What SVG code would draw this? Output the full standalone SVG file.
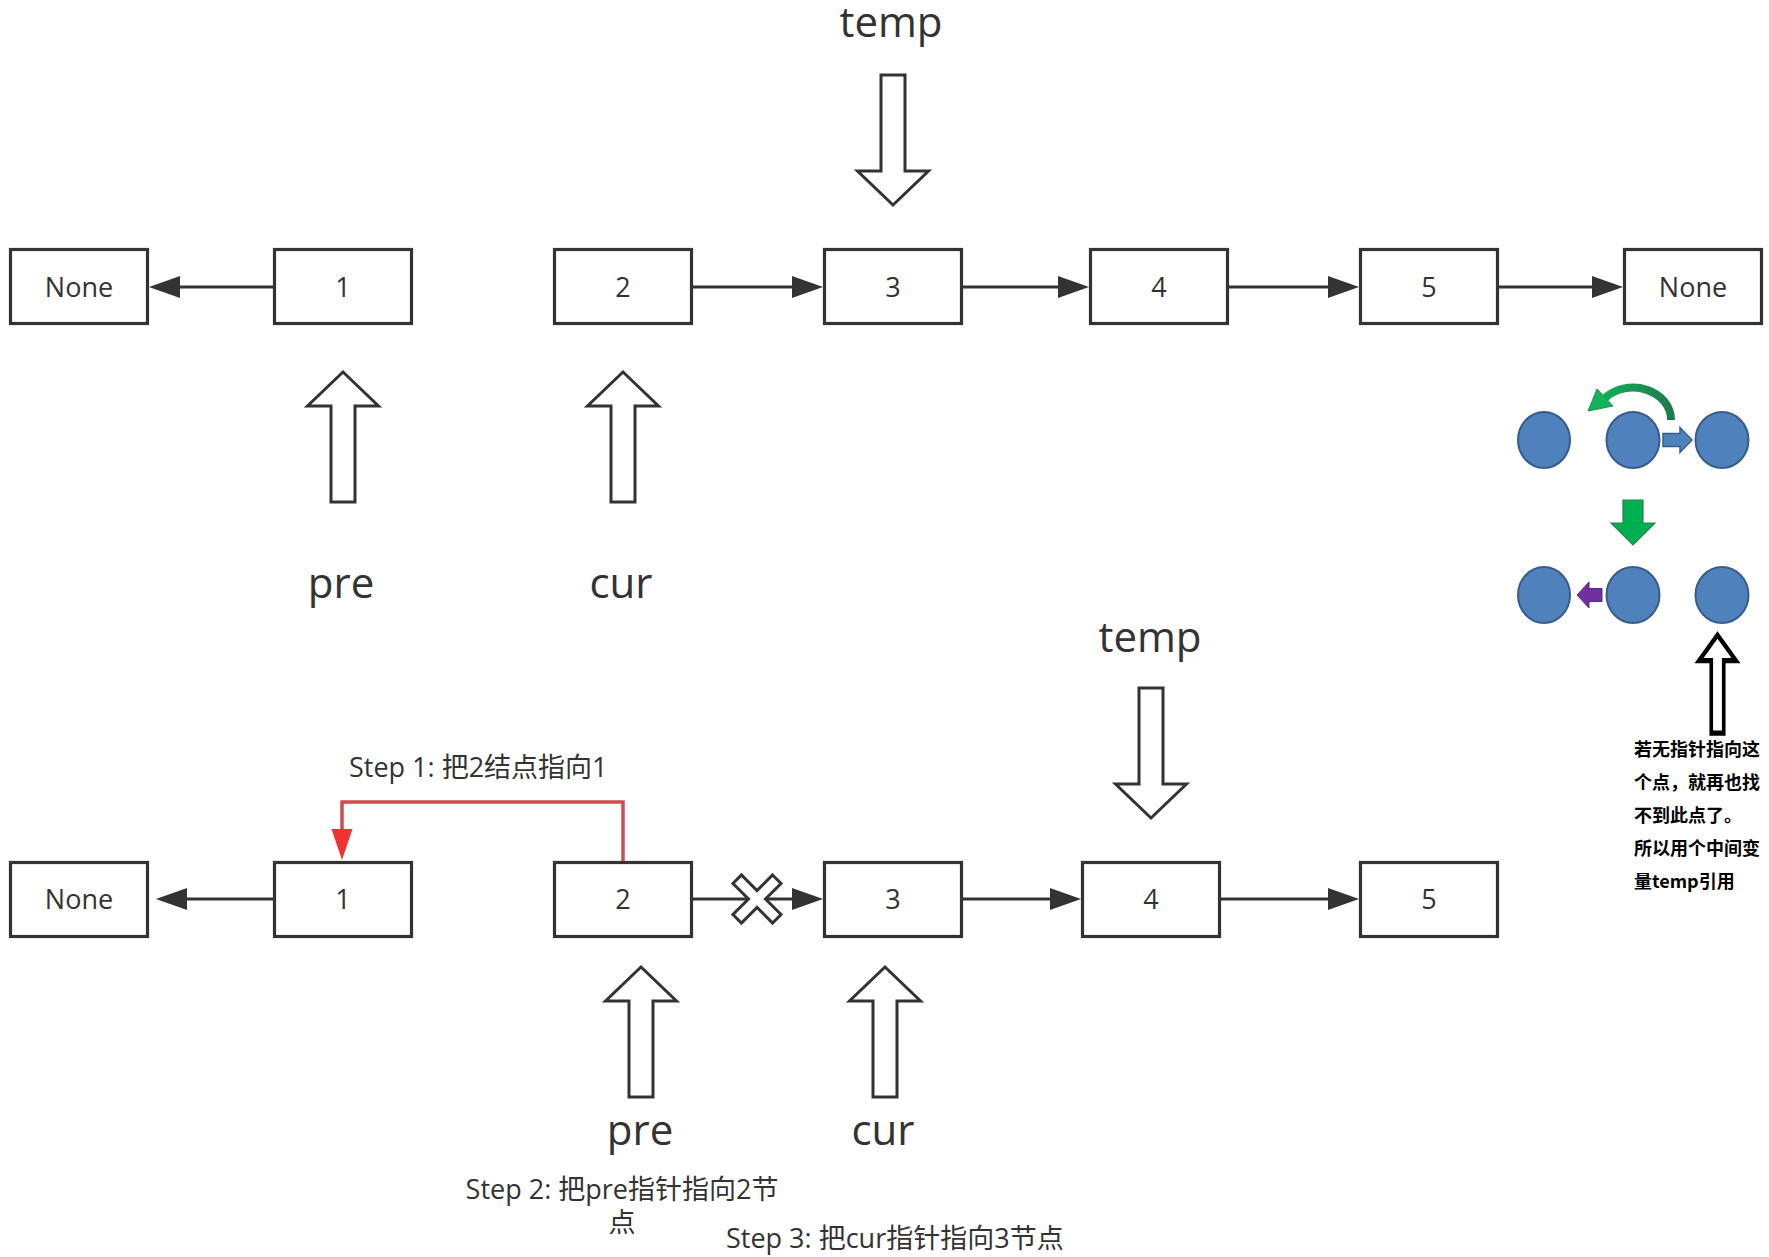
<svg xmlns="http://www.w3.org/2000/svg" width="1769" height="1257" viewBox="0 0 1769 1257">
<style>
.box{fill:#fff;stroke:#333;stroke-width:3.2}
.bt{font-family:"Open Sans","Noto Sans CJK SC",sans-serif;font-size:27px;fill:#333;text-anchor:middle}
.big{font-family:"Open Sans","Noto Sans CJK SC",sans-serif;font-size:42px;fill:#333;text-anchor:middle}
.step{font-family:"Open Sans","Noto Sans CJK SC",sans-serif;font-size:27px;fill:#333}
.note{font-family:"Noto Sans CJK SC","Noto Sans CJK JP",sans-serif;font-size:18px;font-weight:bold;fill:#000}
.hollow{fill:#fff;stroke:#333;stroke-width:3;stroke-linejoin:miter}
.conn{stroke:#333;stroke-width:3;fill:none}
.circ{fill:#4f81bd;stroke:#385d8a;stroke-width:2}
</style>
<defs>
<marker id="ah" markerUnits="userSpaceOnUse" markerWidth="31" markerHeight="22" refX="0" refY="11" orient="auto" overflow="visible">
<path d="M0,0 L31,11 L0,22 Z" fill="#333"/>
</marker>
<marker id="ahr" markerUnits="userSpaceOnUse" markerWidth="31" markerHeight="21" refX="0" refY="10.5" orient="auto" overflow="visible">
<path d="M0,0 L31,10.5 L0,21 Z" fill="#f03232"/>
</marker>
<path id="up" d="M0,0 L35.5,34 L12,34 L12,130 L-12,130 L-12,34 L-35.5,34 Z"/>
<linearGradient id="gg" gradientUnits="userSpaceOnUse" x1="1672" y1="0" x2="1595" y2="0">
<stop offset="0" stop-color="#1d7a4e"/>
<stop offset="1" stop-color="#12b35a"/>
</linearGradient>
</defs>

<!-- top row nodes -->
<g id="t-none-left"><rect class="box" x="10.5" y="249.5" width="137" height="74"/><text class="bt" x="79" y="296.5">None</text></g>
<g id="t-n1"><rect class="box" x="274.5" y="249.5" width="137" height="74"/><text class="bt" x="343" y="296.5">1</text></g>
<g id="t-n2"><rect class="box" x="554.5" y="249.5" width="137" height="74"/><text class="bt" x="623" y="296.5">2</text></g>
<g id="t-n3"><rect class="box" x="824.5" y="249.5" width="137" height="74"/><text class="bt" x="893" y="296.5">3</text></g>
<g id="t-n4"><rect class="box" x="1090.5" y="249.5" width="137" height="74"/><text class="bt" x="1159" y="296.5">4</text></g>
<g id="t-n5"><rect class="box" x="1360.5" y="249.5" width="137" height="74"/><text class="bt" x="1429" y="296.5">5</text></g>
<g id="t-none-right"><rect class="box" x="1624.5" y="249.5" width="137" height="74"/><text class="bt" x="1693" y="296.5">None</text></g>

<!-- bottom row nodes -->
<g id="b-none"><rect class="box" x="10.5" y="862.5" width="137" height="74"/><text class="bt" x="79" y="909">None</text></g>
<g id="b-n1"><rect class="box" x="274.5" y="862.5" width="137" height="74"/><text class="bt" x="343" y="909">1</text></g>
<g id="b-n2"><rect class="box" x="554.5" y="862.5" width="137" height="74"/><text class="bt" x="623" y="909">2</text></g>
<g id="b-n3"><rect class="box" x="824.5" y="862.5" width="137" height="74"/><text class="bt" x="893" y="909">3</text></g>
<g id="b-n4"><rect class="box" x="1082.5" y="862.5" width="137" height="74"/><text class="bt" x="1151" y="909">4</text></g>
<g id="b-n5"><rect class="box" x="1360.5" y="862.5" width="137" height="74"/><text class="bt" x="1429" y="909">5</text></g>

<!-- connectors -->
<g id="connectors">
<line class="conn" x1="273" y1="287" x2="180" y2="287" marker-end="url(#ah)"/>
<line class="conn" x1="693" y1="287" x2="792" y2="287" marker-end="url(#ah)"/>
<line class="conn" x1="963" y1="287" x2="1058" y2="287" marker-end="url(#ah)"/>
<line class="conn" x1="1229" y1="287" x2="1328" y2="287" marker-end="url(#ah)"/>
<line class="conn" x1="1499" y1="287" x2="1592" y2="287" marker-end="url(#ah)"/>
<line class="conn" x1="273" y1="899" x2="187" y2="899" marker-end="url(#ah)"/>
<line class="conn" x1="693" y1="899" x2="792" y2="899" marker-end="url(#ah)"/>
<line class="conn" x1="963" y1="899" x2="1050" y2="899" marker-end="url(#ah)"/>
<line class="conn" x1="1221" y1="899" x2="1328" y2="899" marker-end="url(#ah)"/>
<path d="M623,861 V802 H342 V829" fill="none" stroke="#d04c4e" stroke-width="3.5" marker-end="url(#ahr)"/>
</g>

<!-- broken link mark -->
<g id="cross"><polygon class="hollow" transform="translate(757,899) rotate(45)" points="-6,-28 6,-28 6,-6 28,-6 28,6 6,6 6,28 -6,28 -6,6 -28,6 -28,-6 -6,-6"/></g>

<!-- pointer arrows -->
<g id="p-temp-top"><use href="#up" class="hollow" transform="translate(893,205) rotate(180)"/><text class="big" x="891" y="37">temp</text></g>
<g id="p-pre-top"><use href="#up" class="hollow" transform="translate(343,372)"/><text class="big" x="341" y="598">pre</text></g>
<g id="p-cur-top"><use href="#up" class="hollow" transform="translate(623,372)"/><text class="big" x="621" y="598">cur</text></g>
<g id="p-temp-bottom"><use href="#up" class="hollow" transform="translate(1151,818) rotate(180)"/><text class="big" x="1150" y="652">temp</text></g>
<g id="p-pre-bottom"><use href="#up" class="hollow" transform="translate(641,967)"/><text class="big" x="640" y="1145">pre</text></g>
<g id="p-cur-bottom"><use href="#up" class="hollow" transform="translate(885,967)"/><text class="big" x="883" y="1145">cur</text></g>

<!-- step labels -->
<g id="step1"><text class="step" x="349" y="777">Step 1: 把2结点指向1</text></g>
<g id="step2"><text class="step" x="622" y="1199" text-anchor="middle">Step 2: 把pre指针指向2节</text><text class="step" x="622" y="1232" text-anchor="middle">点</text></g>
<g id="step3"><text class="step" x="726" y="1248">Step 3: 把cur指针指向3节点</text></g>

<!-- side illustration -->
<g id="illustration">
<ellipse class="circ" cx="1544" cy="440" rx="26" ry="28"/>
<ellipse class="circ" cx="1633" cy="440" rx="26.5" ry="28"/>
<ellipse class="circ" cx="1722" cy="440" rx="26.5" ry="28"/>
<path d="M1663,433.5 H1680 V427.5 L1692,440 L1680,452.5 V446.5 H1663 Z" fill="#4f81bd" stroke="#385d8a" stroke-width="1.5"/>
<path d="M1671,420 A38,32 0 0 0 1605,398" fill="none" stroke="url(#gg)" stroke-width="8"/>
<path d="M1613,406 L1597,389 L1588,411 Z" fill="#12b35a" stroke="#0f9a4c" stroke-width="1"/>
<path d="M1623,500 H1643 V523 H1655 L1633,545 L1611,523 H1623 Z" fill="#00b050" stroke="#2f7f4f" stroke-width="1.2"/>
<ellipse class="circ" cx="1544" cy="595" rx="26" ry="28"/>
<ellipse class="circ" cx="1633" cy="595" rx="26.5" ry="28"/>
<ellipse class="circ" cx="1722" cy="595" rx="26.5" ry="28"/>
<path d="M1602,588.5 H1589 V582 L1577,595 L1589,608 V601.5 H1602 Z" fill="#7030a0" stroke="#5a2a82" stroke-width="1"/>
<use href="#up" transform="translate(1717.5,635) scale(0.52,0.755)" fill="#fff" stroke="#000" stroke-width="7"/>
<text class="note" x="1634" y="756">若无指针指向这</text>
<text class="note" x="1634" y="789">个点，就再也找</text>
<text class="note" x="1634" y="822">不到此点了。</text>
<text class="note" x="1634" y="855">所以用个中间变</text>
<text class="note" x="1634" y="888">量temp引用</text>
</g>
</svg>
